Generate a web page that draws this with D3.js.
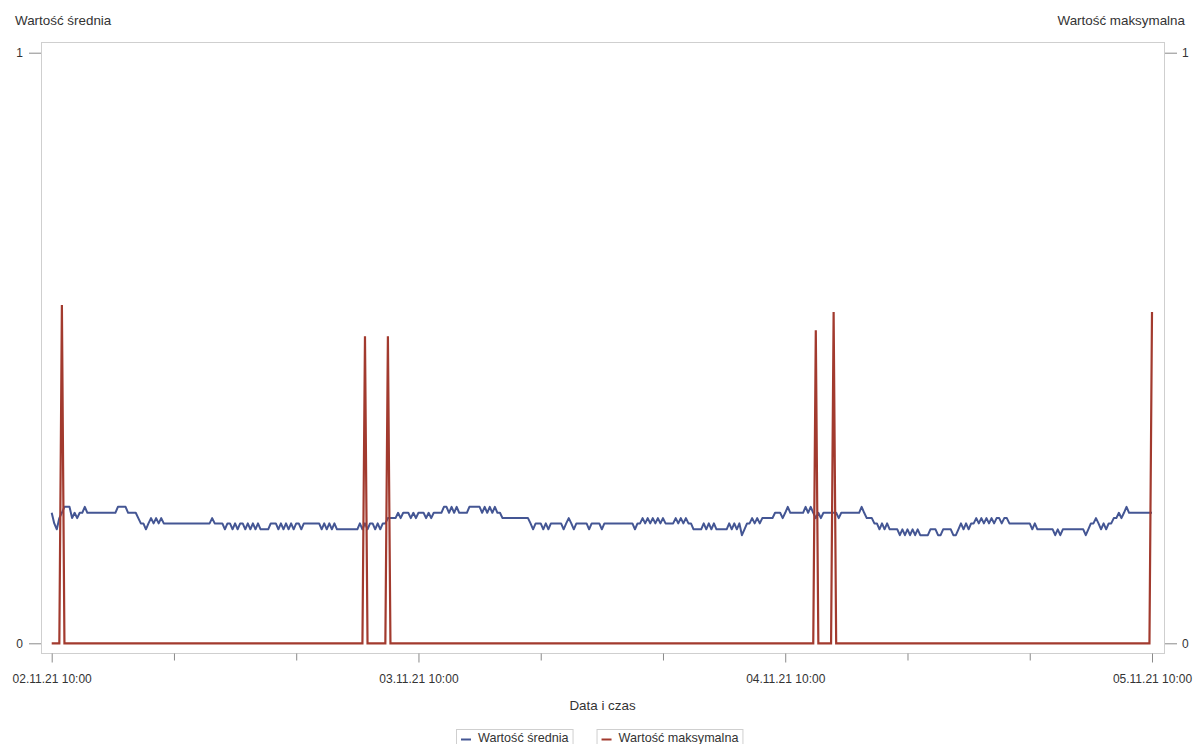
<!DOCTYPE html>
<html lang="pl">
<head>
<meta charset="utf-8">
<script src="https://cdn.jsdelivr.net/npm/d3@7"></script>
<style>
  body { margin: 0; background: #fff; }
  svg { font-family: Arial, "Liberation Sans", sans-serif; }
</style>
</head>
<body>
<svg id="chart"></svg>
<script>
// Chart size
const width = 1193, height = 744;
const frame = { left: 41, right: 1164, top: 42, bottom: 653 };

// Data: mean value, sampled every 10 minutes from the start time
const startTime = "02.11.21 10:00";
const stepMinutes = 10;
const meanValues = [
  .221,.203,.193,.212,.221,.231,.231,.231,.212,.221,.212,.221,
  .221,.231,.221,.221,.221,.221,.221,.221,.221,.221,.221,.221,
  .221,.221,.231,.231,.231,.231,.221,.221,.221,.221,.212,.203,
  .203,.193,.203,.212,.203,.212,.203,.212,.203,.203,.203,.203,
  .203,.203,.203,.203,.203,.203,.203,.203,.203,.203,.203,.203,
  .203,.203,.203,.212,.203,.203,.203,.203,.193,.203,.203,.193,
  .203,.193,.203,.203,.193,.203,.193,.203,.193,.203,.193,.193,
  .193,.193,.203,.203,.203,.193,.203,.193,.203,.193,.203,.193,
  .203,.203,.193,.203,.203,.203,.203,.203,.203,.203,.193,.203,
  .193,.203,.193,.203,.193,.193,.193,.193,.193,.193,.193,.193,
  .193,.203,.193,.203,.193,.203,.203,.193,.203,.193,.203,.203,
  .212,.212,.212,.212,.221,.212,.221,.221,.221,.212,.221,.212,
  .221,.221,.221,.212,.221,.212,.221,.221,.221,.221,.231,.231,
  .221,.231,.221,.231,.221,.221,.221,.221,.231,.231,.231,.231,
  .231,.221,.231,.221,.231,.221,.231,.221,.221,.212,.212,.212,
  .212,.212,.212,.212,.212,.212,.212,.212,.203,.193,.203,.203,
  .203,.193,.203,.193,.203,.203,.203,.203,.203,.193,.203,.212,
  .203,.193,.203,.203,.203,.203,.203,.193,.203,.203,.203,.203,
  .193,.203,.203,.203,.203,.203,.203,.203,.203,.203,.203,.203,
  .203,.193,.203,.203,.212,.203,.212,.203,.212,.203,.212,.203,
  .212,.203,.203,.203,.203,.212,.203,.212,.203,.212,.203,.203,
  .193,.193,.193,.193,.203,.193,.203,.193,.203,.193,.193,.193,
  .193,.193,.203,.193,.203,.193,.203,.183,.193,.203,.203,.212,
  .203,.212,.203,.212,.212,.212,.212,.212,.221,.221,.221,.212,
  .221,.231,.221,.221,.221,.221,.221,.221,.231,.221,.231,.221,
  .212,.221,.212,.221,.221,.221,.221,.221,.221,.212,.221,.221,
  .221,.221,.221,.221,.221,.221,.231,.221,.212,.212,.212,.203,
  .203,.193,.203,.193,.203,.193,.193,.193,.193,.183,.193,.183,
  .193,.183,.193,.183,.193,.183,.183,.183,.183,.193,.193,.193,
  .183,.183,.193,.193,.193,.193,.183,.183,.193,.203,.193,.203,
  .193,.203,.203,.212,.203,.212,.203,.212,.203,.212,.203,.212,
  .212,.203,.212,.212,.203,.203,.203,.203,.203,.203,.203,.203,
  .203,.193,.203,.193,.193,.193,.193,.193,.193,.193,.183,.193,
  .183,.193,.193,.193,.193,.193,.193,.193,.193,.193,.183,.193,
  .203,.203,.212,.203,.193,.203,.193,.203,.203,.212,.212,.221,
  .212,.221,.231,.221,.221,.221,.221,.221,.221,.221,.221,.221,
  .221
];

// Data: maximum value (zero except for short spikes)
const maxTimes = [
  "02.11.21 10:00", "02.11.21 10:30", "02.11.21 10:40", "02.11.21 10:50",
  "03.11.21 06:20", "03.11.21 06:30", "03.11.21 06:40",
  "03.11.21 07:50", "03.11.21 08:00", "03.11.21 08:10",
  "04.11.21 11:50", "04.11.21 12:00", "04.11.21 12:10",
  "04.11.21 13:00", "04.11.21 13:10", "04.11.21 13:20",
  "05.11.21 09:50", "05.11.21 10:00"
];
const maxValues = [
  0, 0, .573, 0,
  0, .520, 0,
  0, .520, 0,
  0, .530, 0,
  0, .561, 0,
  0, .561
];

const xTickLabels = ["02.11.21 10:00", "03.11.21 10:00", "04.11.21 10:00", "05.11.21 10:00"];
const yTickValues = [0, 1];
const seriesNames = ["Wartość średnia", "Wartość maksymalna"];
const seriesColors = ["#445694", "#a23a2e"];
const xTitle = "Data i czas";

const parseTime = d3.timeParse("%d.%m.%y %H:%M");
const formatTime = d3.timeFormat("%d.%m.%y %H:%M");

const start = parseTime(startTime);
const meanData = meanValues.map((v, i) => ({ t: d3.timeMinute.offset(start, i * stepMinutes), v }));
const maxData = maxTimes.map((s, i) => ({ t: parseTime(s), v: maxValues[i] }));

const svg = d3.select("#chart")
  .attr("width", width)
  .attr("height", height);

// Scales
const majorTicks = xTickLabels.map(parseTime);
const x = d3.scaleTime()
  .domain([majorTicks[0], majorTicks[majorTicks.length - 1]])
  .range([51.7, 1152]);

const y = d3.scaleLinear()
  .domain([0, 1])
  .range([643.3, 52.7]);

// Plot frame
svg.append("rect")
  .attr("x", frame.left + 0.5)
  .attr("y", frame.top + 0.5)
  .attr("width", frame.right - frame.left)
  .attr("height", frame.bottom - frame.top)
  .attr("fill", "none")
  .attr("stroke", "#cfcfcf");

// Axes
const minorTicks = d3.timeHour.range(x.domain()[0], x.domain()[1], 8)
  .filter(d => !majorTicks.some(m => +m === +d));

function styleAxis(g) {
  g.select(".domain").remove();
  g.selectAll(".tick line").attr("stroke", "#8a8a8a");
  g.selectAll(".tick text").attr("fill", "#333").style("font-size", "12px");
}

svg.append("g")
  .attr("transform", `translate(0, ${frame.bottom + 0.5})`)
  .call(d3.axisBottom(x).tickValues(minorTicks).tickSize(7).tickFormat(""))
  .call(styleAxis);

svg.append("g")
  .attr("transform", `translate(0, ${frame.bottom + 0.5})`)
  .call(d3.axisBottom(x).tickValues(majorTicks).tickSize(9).tickPadding(12).tickFormat(formatTime))
  .call(styleAxis);

svg.append("g")
  .attr("transform", `translate(${frame.left}, 0)`)
  .call(d3.axisLeft(y).tickValues(yTickValues).tickSize(12).tickPadding(6).tickFormat(d3.format("d")))
  .call(styleAxis);

svg.append("g")
  .attr("transform", `translate(${frame.right + 1}, 0)`)
  .call(d3.axisRight(y).tickValues(yTickValues).tickSize(12).tickPadding(5).tickFormat(d3.format("d")))
  .call(styleAxis);

// Lines
const line = d3.line()
  .x(d => x(d.t))
  .y(d => y(d.v));

svg.append("path")
  .datum(meanData)
  .attr("d", line)
  .attr("fill", "none")
  .attr("stroke", seriesColors[0])
  .attr("stroke-width", 2)
  .attr("stroke-linejoin", "round");

svg.append("path")
  .datum(maxData)
  .attr("d", line)
  .attr("fill", "none")
  .attr("stroke", seriesColors[1])
  .attr("stroke-width", 2.2)
  .attr("stroke-linejoin", "miter");

// Axis titles
svg.append("text")
  .attr("x", 15)
  .attr("y", 25)
  .attr("fill", "#333")
  .style("font-size", "13.4px")
  .text(seriesNames[0]);

svg.append("text")
  .attr("x", 1185)
  .attr("y", 25)
  .attr("text-anchor", "end")
  .attr("fill", "#333")
  .style("font-size", "13.4px")
  .text(seriesNames[1]);

svg.append("text")
  .attr("x", (frame.left + frame.right) / 2)
  .attr("y", 710)
  .attr("text-anchor", "middle")
  .attr("fill", "#333")
  .style("font-size", "13.4px")
  .text(xTitle);

// Legend
const legend = svg.append("g").attr("class", "legend");
let lx = 0;
seriesNames.forEach((name, i) => {
  const item = legend.append("g").attr("transform", `translate(${lx}, 0)`);
  const box = item.append("rect")
    .attr("y", 729.5)
    .attr("height", 22)
    .attr("fill", "#fff")
    .attr("stroke", "#cfcfcf");
  item.append("line")
    .attr("x1", 5).attr("x2", 15)
    .attr("y1", 739.5).attr("y2", 739.5)
    .attr("stroke", seriesColors[i])
    .attr("stroke-width", 2);
  const txt = item.append("text")
    .attr("x", 22)
    .attr("y", 742)
    .attr("fill", "#333")
    .style("font-size", "12.6px")
    .text(name);
  const w = 22 + txt.node().getComputedTextLength() + 4;
  box.attr("x", 0.5).attr("width", w);
  lx += w + 24;
});
const legendWidth = lx - 24;
legend.attr("transform", `translate(${Math.round(599 - legendWidth / 2)}, 0)`);
</script>
</body>
</html>
